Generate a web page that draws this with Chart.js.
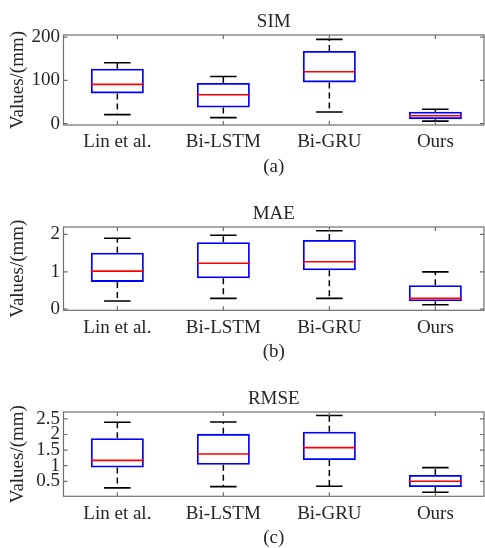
<!DOCTYPE html>
<html>
<head>
<meta charset="utf-8">
<script src="https://cdn.jsdelivr.net/npm/chart.js@4"></script>
<style>
  html, body { margin: 0; padding: 0; background: #fff; }
  body { width: 485px; height: 548px; position: relative; overflow: hidden; }
  .panel { position: absolute; left: 0; width: 485px; }
</style>
</head>
<body>
<div class="panel" style="top:0px;height:177px"><canvas id="chart-sim"></canvas></div>
<div class="panel" style="top:191.7px;height:170.3px"><canvas id="chart-mae"></canvas></div>
<div class="panel" style="top:376.7px;height:171.3px"><canvas id="chart-rmse"></canvas></div>
<script>
const METHODS = ["Lin et al.", "Bi-LSTM", "Bi-GRU", "Ours"];

// SIM panel (a)
const SIM_LOW = [21, 14, 27, 6];
const SIM_Q1 = [70, 37.5, 95.5, 10.5];
const SIM_MED = [91, 67, 120, 18.5];
const SIM_Q3 = [127, 94, 168, 27.5];
const SIM_HIGH = [141, 109, 195, 33.5];
const SIM_TICKS = [0, 100, 200];
const SIM_TICK_LABELS = ["0", "100", "200"];

// MAE panel (b)
const MAE_LOW = [0.22, 0.29, 0.29, 0.12];
const MAE_Q1 = [0.73, 0.83, 1.04, 0.21];
const MAE_MED = [1.02, 1.23, 1.27, 0.29];
const MAE_Q3 = [1.51, 1.79, 1.85, 0.64];
const MAE_HIGH = [1.90, 1.98, 2.10, 1.00];
const MAE_TICKS = [0, 1, 2];
const MAE_TICK_LABELS = ["0", "1", "2"];

// RMSE panel (c)
const RMSE_LOW = [0.29, 0.33, 0.34, 0.15];
const RMSE_Q1 = [0.94, 1.03, 1.18, 0.32];
const RMSE_MED = [1.17, 1.375, 1.58, 0.50];
const RMSE_Q3 = [1.88, 2.02, 2.09, 0.70];
const RMSE_HIGH = [2.39, 2.40, 2.61, 0.94];
const RMSE_TICKS = [0.5, 1, 1.5, 2, 2.5];
const RMSE_TICK_LABELS = ["0.5", "1", "1.5", "2", "2.5"];

const FONT = "'Liberation Serif', 'Times New Roman', serif";
const TEXT_COLOR = "#262626";
const AXIS_COLOR = "#6e6e6e";
const BOX_HALF = 0.25;   // MATLAB default box width 0.5
const CAP_HALF = 0.125;

// axes box + inward tick marks, like MATLAB "box on"
const axesBoxPlugin = {
    id: "axesBox",
    afterDatasetsDraw(chart) {
        const { ctx, chartArea: a, scales } = chart;
        const tl = 4;
        ctx.save();
        ctx.strokeStyle = AXIS_COLOR;
        ctx.lineWidth = 1.2;
        ctx.beginPath();
        scales.y.ticks.forEach(t => {
            const y = scales.y.getPixelForValue(t.value);
            ctx.moveTo(a.left, y); ctx.lineTo(a.left + tl, y);
            ctx.moveTo(a.right, y); ctx.lineTo(a.right - tl, y);
        });
        scales.x.ticks.forEach(t => {
            const x = scales.x.getPixelForValue(t.value);
            ctx.moveTo(x, a.bottom); ctx.lineTo(x, a.bottom - tl);
            ctx.moveTo(x, a.top); ctx.lineTo(x, a.top + tl);
        });
        ctx.stroke();
        ctx.strokeRect(a.left, a.top, a.right - a.left, a.bottom - a.top);
        ctx.restore();
    }
};

const buildDatasets = (low, q1, med, q3, high) => {
    const boxes = METHODS.map((m, i) => ({ x: i + 1, y: [q1[i], q3[i]] }));
    const medians = [];
    const whiskers = [];
    const caps = [];
    METHODS.forEach((m, i) => {
        const x = i + 1;
        medians.push({ x: x - BOX_HALF, y: med[i] }, { x: x + BOX_HALF, y: med[i] }, { x: x + 0.5, y: null });
        whiskers.push({ x, y: q3[i] }, { x, y: high[i] }, { x, y: null },
                      { x, y: q1[i] }, { x, y: low[i] }, { x, y: null });
        caps.push({ x: x - CAP_HALF, y: high[i] }, { x: x + CAP_HALF, y: high[i] }, { x: x + 0.5, y: null },
                  { x: x - CAP_HALF, y: low[i] }, { x: x + CAP_HALF, y: low[i] }, { x: x + 0.5, y: null });
    });
    const lineBase = { type: "line", pointRadius: 0, spanGaps: false, tension: 0, fill: false };
    return [
        { ...lineBase, label: "median", data: medians, borderColor: "#ff0000", borderWidth: 1.6, order: 0 },
        { type: "bar", label: "box", data: boxes, backgroundColor: "rgba(0,0,0,0)", borderColor: "#0000ff",
          borderWidth: 1.8, borderSkipped: false, inflateAmount: 0, categoryPercentage: 1, barPercentage: 0.5,
          grouped: false, order: 1 },
        { ...lineBase, label: "whisker", data: whiskers, borderColor: "#000000", borderWidth: 1.5,
          borderDash: [6, 4], order: 2 },
        { ...lineBase, label: "cap", data: caps, borderColor: "#000000", borderWidth: 1.6, order: 3 }
    ];
};

const makeBoxChart = (canvasId, title, subLabel, series, yTicks, yLabels, yMin, yMax) => {
    const canvas = document.getElementById(canvasId);
    return new Chart(canvas, {
        type: "bar",
        data: { datasets: buildDatasets(...series) },
        options: {
            responsive: true,
            maintainAspectRatio: false,
            animation: false,
            events: [],
            layout: { padding: { left: 0, right: 1, top: 0, bottom: 0 } },
            plugins: {
                legend: { display: false },
                tooltip: { enabled: false },
                title: {
                    display: true,
                    fullSize: false,
                    text: title,
                    color: TEXT_COLOR,
                    font: { family: FONT, size: 19, weight: "normal", lineHeight: 1 },
                    padding: { top: 12.2, bottom: 3.8 }
                }
            },
            scales: {
                x: {
                    type: "linear",
                    offset: false,
                    min: 0.492,
                    max: 4.459,
                    grid: { display: false, drawTicks: false },
                    border: { display: false },
                    afterBuildTicks: scale => {
                        scale.ticks = METHODS.map((m, i) => ({ value: i + 1 }));
                    },
                    afterFit: scale => { scale.height = 52; },
                    ticks: {
                        autoSkip: false,
                        maxRotation: 0,
                        padding: 8,
                        color: TEXT_COLOR,
                        font: { family: FONT, size: 19, lineHeight: 1 },
                        callback: value => METHODS[value - 1]
                    },
                    title: {
                        display: true,
                        text: subLabel,
                        color: TEXT_COLOR,
                        font: { family: FONT, size: 19, lineHeight: 1 },
                        padding: { top: 0, bottom: 0.5 }
                    }
                },
                y: {
                    min: yMin,
                    max: yMax,
                    grid: { display: false, drawTicks: false },
                    border: { display: false },
                    afterBuildTicks: scale => {
                        scale.ticks = yTicks.map(v => ({ value: v }));
                    },
                    afterFit: scale => { scale.width = 63.5; },
                    ticks: {
                        autoSkip: false,
                        padding: 3.5,
                        color: TEXT_COLOR,
                        font: { family: FONT, size: 19, lineHeight: 1 },
                        callback: value => yLabels[yTicks.indexOf(value)]
                    },
                    title: {
                        display: true,
                        text: "Values/(mm)",
                        color: TEXT_COLOR,
                        font: { family: FONT, size: 19, lineHeight: 1 },
                        padding: { top: 8.5, bottom: 0 }
                    }
                }
            }
        },
        plugins: [axesBoxPlugin]
    });
};

makeBoxChart("chart-sim", "SIM", "(a)",
    [SIM_LOW, SIM_Q1, SIM_MED, SIM_Q3, SIM_HIGH], SIM_TICKS, SIM_TICK_LABELS, -3, 205);
makeBoxChart("chart-mae", "MAE", "(b)",
    [MAE_LOW, MAE_Q1, MAE_MED, MAE_Q3, MAE_HIGH], MAE_TICKS, MAE_TICK_LABELS, -0.03, 2.2);
makeBoxChart("chart-rmse", "RMSE", "(c)",
    [RMSE_LOW, RMSE_Q1, RMSE_MED, RMSE_Q3, RMSE_HIGH], RMSE_TICKS, RMSE_TICK_LABELS, 0.02, 2.72);
</script>
</body>
</html>
